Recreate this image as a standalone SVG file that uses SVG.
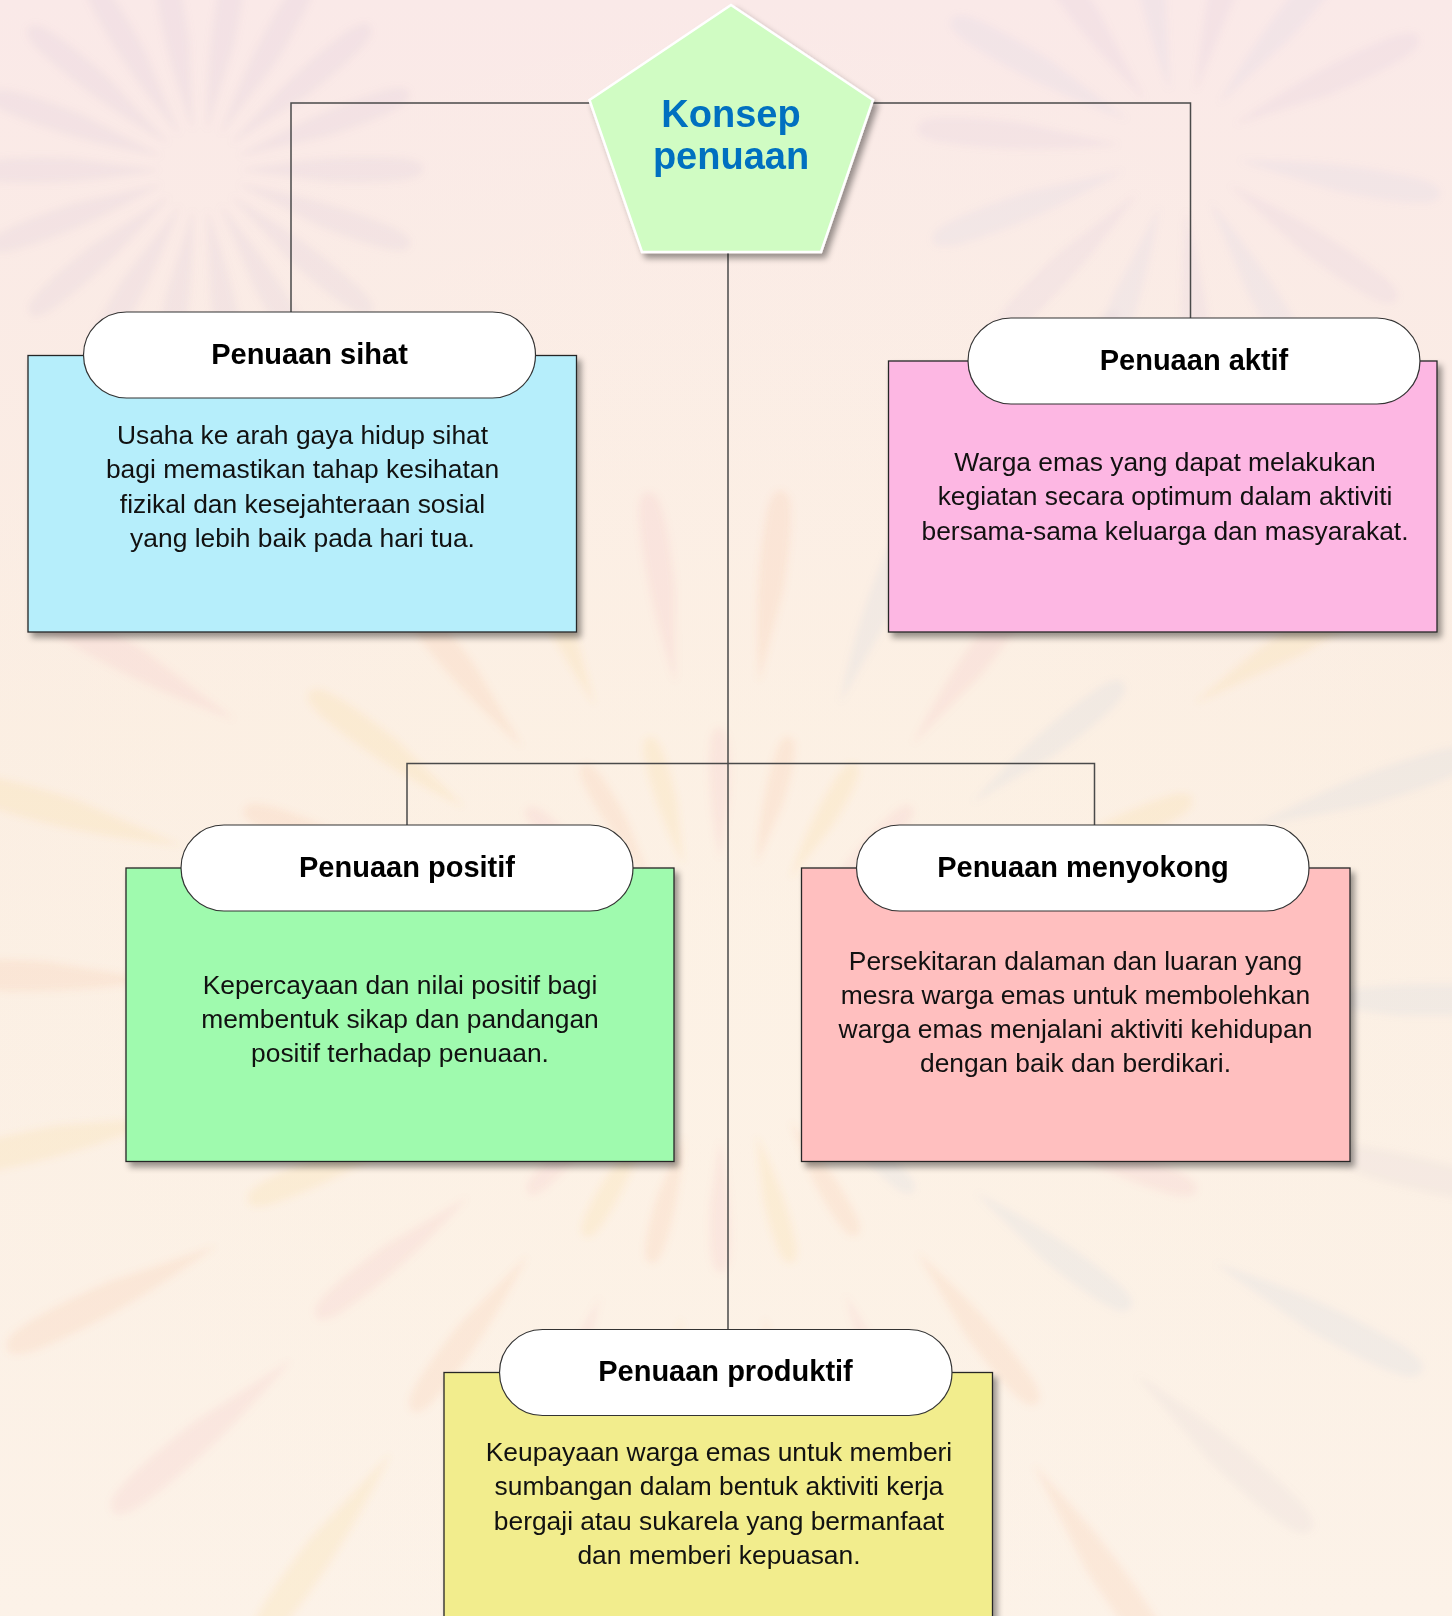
<svg xmlns="http://www.w3.org/2000/svg" xmlns:xlink="http://www.w3.org/1999/xlink" width="1452" height="1616" viewBox="0 0 1452 1616">
<defs>
<style>
.box{stroke:#262626;stroke-width:1.3;filter:url(#sh)}
.pill{fill:#ffffff;stroke:#333333;stroke-width:1.2}
.ttl{font-family:"Liberation Sans",Arial,sans-serif;font-weight:bold;font-size:29px;fill:#000;text-anchor:middle}
.body{font-family:"Liberation Sans",Arial,sans-serif;font-size:26.4px;fill:#111;text-anchor:middle}
.conn{fill:none;stroke:#4a4a4a;stroke-width:1.5}
.main{font-family:"Liberation Sans",Arial,sans-serif;font-weight:bold;font-size:38px;fill:#0070c0;text-anchor:middle}
</style>
<filter id="sh" x="-5%" y="-5%" width="115%" height="115%">
<feDropShadow dx="4" dy="5" stdDeviation="3" flood-color="#000" flood-opacity="0.4"/>
</filter>
<filter id="soft"><feGaussianBlur stdDeviation="3.5"/></filter>
<linearGradient id="bg" x1="0" y1="0" x2="0" y2="1">
<stop offset="0" stop-color="#fae9e8"/>
<stop offset="0.45" stop-color="#fbeee2"/>
<stop offset="1" stop-color="#fcf2e8"/>
</linearGradient>
<radialGradient id="glow" cx="0.5" cy="0.6" r="0.6">
<stop offset="0" stop-color="#fdf3e6" stop-opacity="0.6"/>
<stop offset="1" stop-color="#fdf3e6" stop-opacity="0"/>
</radialGradient>
<path id="pt" d="M0,0 Q50,-14 90,-10 Q106,-7 100,4 Q94,12 50,10 Z"/>
</defs>

<g id="background">
<rect width="1452" height="1616" fill="url(#bg)"/>
<rect width="1452" height="1616" fill="url(#glow)"/>
<g filter="url(#soft)">
<g opacity="0.13" transform="translate(200,170)">
<use xlink:href="#pt" fill="#c9b3d1" transform="rotate(0) translate(40,0) scale(1.8,1.2)"/>
<use xlink:href="#pt" fill="#c9b3d1" transform="rotate(20) translate(40,0) scale(1.8,1.2)"/>
<use xlink:href="#pt" fill="#c9b3d1" transform="rotate(40) translate(40,0) scale(1.8,1.2)"/>
<use xlink:href="#pt" fill="#c9b3d1" transform="rotate(60) translate(40,0) scale(1.8,1.2)"/>
<use xlink:href="#pt" fill="#c9b3d1" transform="rotate(80) translate(40,0) scale(1.8,1.2)"/>
<use xlink:href="#pt" fill="#c9b3d1" transform="rotate(100) translate(40,0) scale(1.8,1.2)"/>
<use xlink:href="#pt" fill="#c9b3d1" transform="rotate(120) translate(40,0) scale(1.8,1.2)"/>
<use xlink:href="#pt" fill="#c9b3d1" transform="rotate(140) translate(40,0) scale(1.8,1.2)"/>
<use xlink:href="#pt" fill="#c9b3d1" transform="rotate(160) translate(40,0) scale(1.8,1.2)"/>
<use xlink:href="#pt" fill="#c9b3d1" transform="rotate(180) translate(40,0) scale(1.8,1.2)"/>
<use xlink:href="#pt" fill="#c9b3d1" transform="rotate(200) translate(40,0) scale(1.8,1.2)"/>
<use xlink:href="#pt" fill="#c9b3d1" transform="rotate(220) translate(40,0) scale(1.8,1.2)"/>
<use xlink:href="#pt" fill="#c9b3d1" transform="rotate(240) translate(40,0) scale(1.8,1.2)"/>
<use xlink:href="#pt" fill="#c9b3d1" transform="rotate(260) translate(40,0) scale(1.8,1.2)"/>
<use xlink:href="#pt" fill="#c9b3d1" transform="rotate(280) translate(40,0) scale(1.8,1.2)"/>
<use xlink:href="#pt" fill="#c9b3d1" transform="rotate(300) translate(40,0) scale(1.8,1.2)"/>
<use xlink:href="#pt" fill="#c9b3d1" transform="rotate(320) translate(40,0) scale(1.8,1.2)"/>
<use xlink:href="#pt" fill="#c9b3d1" transform="rotate(340) translate(40,0) scale(1.8,1.2)"/>
</g>
<g opacity="0.12" transform="translate(1180,150)">
<use xlink:href="#pt" fill="#b7c2e0" transform="rotate(10) translate(60,0) scale(2,1.3)"/>
<use xlink:href="#pt" fill="#c9b3d1" transform="rotate(35) translate(60,0) scale(2,1.3)"/>
<use xlink:href="#pt" fill="#b7c2e0" transform="rotate(60) translate(60,0) scale(2,1.3)"/>
<use xlink:href="#pt" fill="#c9b3d1" transform="rotate(85) translate(60,0) scale(2,1.3)"/>
<use xlink:href="#pt" fill="#b7c2e0" transform="rotate(110) translate(60,0) scale(2,1.3)"/>
<use xlink:href="#pt" fill="#c9b3d1" transform="rotate(135) translate(60,0) scale(2,1.3)"/>
<use xlink:href="#pt" fill="#b7c2e0" transform="rotate(160) translate(60,0) scale(2,1.3)"/>
<use xlink:href="#pt" fill="#c9b3d1" transform="rotate(185) translate(60,0) scale(2,1.3)"/>
<use xlink:href="#pt" fill="#b7c2e0" transform="rotate(210) translate(60,0) scale(2,1.3)"/>
<use xlink:href="#pt" fill="#c9b3d1" transform="rotate(235) translate(60,0) scale(2,1.3)"/>
<use xlink:href="#pt" fill="#b7c2e0" transform="rotate(260) translate(60,0) scale(2,1.3)"/>
<use xlink:href="#pt" fill="#c9b3d1" transform="rotate(285) translate(60,0) scale(2,1.3)"/>
<use xlink:href="#pt" fill="#b7c2e0" transform="rotate(310) translate(60,0) scale(2,1.3)"/>
<use xlink:href="#pt" fill="#c9b3d1" transform="rotate(335) translate(60,0) scale(2,1.3)"/>
</g>
<g opacity="0.12" transform="translate(720,1000)">
<use xlink:href="#pt" fill="#f0a070" transform="rotate(0) translate(140,0) scale(1.3,1)"/>
<use xlink:href="#pt" fill="#f4c860" transform="rotate(15) translate(140,0) scale(1.3,1)"/>
<use xlink:href="#pt" fill="#ee98a8" transform="rotate(30) translate(140,0) scale(1.3,1)"/>
<use xlink:href="#pt" fill="#a8c0dc" transform="rotate(45) translate(140,0) scale(1.3,1)"/>
<use xlink:href="#pt" fill="#f0a070" transform="rotate(60) translate(140,0) scale(1.3,1)"/>
<use xlink:href="#pt" fill="#f4c860" transform="rotate(75) translate(140,0) scale(1.3,1)"/>
<use xlink:href="#pt" fill="#ee98a8" transform="rotate(90) translate(140,0) scale(1.3,1)"/>
<use xlink:href="#pt" fill="#f0a070" transform="rotate(105) translate(140,0) scale(1.3,1)"/>
<use xlink:href="#pt" fill="#f4c860" transform="rotate(120) translate(140,0) scale(1.3,1)"/>
<use xlink:href="#pt" fill="#ee98a8" transform="rotate(135) translate(140,0) scale(1.3,1)"/>
<use xlink:href="#pt" fill="#f0a070" transform="rotate(150) translate(140,0) scale(1.3,1)"/>
<use xlink:href="#pt" fill="#f4c860" transform="rotate(165) translate(140,0) scale(1.3,1)"/>
<use xlink:href="#pt" fill="#ee98a8" transform="rotate(180) translate(140,0) scale(1.3,1)"/>
<use xlink:href="#pt" fill="#f0a070" transform="rotate(195) translate(140,0) scale(1.3,1)"/>
<use xlink:href="#pt" fill="#f4c860" transform="rotate(210) translate(140,0) scale(1.3,1)"/>
<use xlink:href="#pt" fill="#ee98a8" transform="rotate(225) translate(140,0) scale(1.3,1)"/>
<use xlink:href="#pt" fill="#f0a070" transform="rotate(240) translate(140,0) scale(1.3,1)"/>
<use xlink:href="#pt" fill="#f4c860" transform="rotate(255) translate(140,0) scale(1.3,1)"/>
<use xlink:href="#pt" fill="#ee98a8" transform="rotate(270) translate(140,0) scale(1.3,1)"/>
<use xlink:href="#pt" fill="#f0a070" transform="rotate(285) translate(140,0) scale(1.3,1)"/>
<use xlink:href="#pt" fill="#f4c860" transform="rotate(300) translate(140,0) scale(1.3,1)"/>
<use xlink:href="#pt" fill="#ee98a8" transform="rotate(315) translate(140,0) scale(1.3,1)"/>
<use xlink:href="#pt" fill="#f0a070" transform="rotate(330) translate(140,0) scale(1.3,1)"/>
<use xlink:href="#pt" fill="#a8c0dc" transform="rotate(345) translate(140,0) scale(1.3,1)"/>
<use xlink:href="#pt" fill="#f4c860" transform="rotate(7) translate(320,0) scale(1.9,1.3)"/>
<use xlink:href="#pt" fill="#ee98a8" transform="rotate(22) translate(320,0) scale(1.9,1.3)"/>
<use xlink:href="#pt" fill="#a8c0dc" transform="rotate(37) translate(320,0) scale(1.9,1.3)"/>
<use xlink:href="#pt" fill="#f0a070" transform="rotate(52) translate(320,0) scale(1.9,1.3)"/>
<use xlink:href="#pt" fill="#ee98a8" transform="rotate(67) translate(320,0) scale(1.9,1.3)"/>
<use xlink:href="#pt" fill="#f0a070" transform="rotate(82) translate(320,0) scale(1.9,1.3)"/>
<use xlink:href="#pt" fill="#f4c860" transform="rotate(97) translate(320,0) scale(1.9,1.3)"/>
<use xlink:href="#pt" fill="#ee98a8" transform="rotate(112) translate(320,0) scale(1.9,1.3)"/>
<use xlink:href="#pt" fill="#f0a070" transform="rotate(127) translate(320,0) scale(1.9,1.3)"/>
<use xlink:href="#pt" fill="#ee98a8" transform="rotate(142) translate(320,0) scale(1.9,1.3)"/>
<use xlink:href="#pt" fill="#f4c860" transform="rotate(157) translate(320,0) scale(1.9,1.3)"/>
<use xlink:href="#pt" fill="#f0a070" transform="rotate(172) translate(320,0) scale(1.9,1.3)"/>
<use xlink:href="#pt" fill="#f4c860" transform="rotate(187) translate(320,0) scale(1.9,1.3)"/>
<use xlink:href="#pt" fill="#f0a070" transform="rotate(202) translate(320,0) scale(1.9,1.3)"/>
<use xlink:href="#pt" fill="#f4c860" transform="rotate(217) translate(320,0) scale(1.9,1.3)"/>
<use xlink:href="#pt" fill="#f0a070" transform="rotate(232) translate(320,0) scale(1.9,1.3)"/>
<use xlink:href="#pt" fill="#f4c860" transform="rotate(247) translate(320,0) scale(1.9,1.3)"/>
<use xlink:href="#pt" fill="#ee98a8" transform="rotate(262) translate(320,0) scale(1.9,1.3)"/>
<use xlink:href="#pt" fill="#f0a070" transform="rotate(277) translate(320,0) scale(1.9,1.3)"/>
<use xlink:href="#pt" fill="#a8c0dc" transform="rotate(292) translate(320,0) scale(1.9,1.3)"/>
<use xlink:href="#pt" fill="#ee98a8" transform="rotate(307) translate(320,0) scale(1.9,1.3)"/>
<use xlink:href="#pt" fill="#a8c0dc" transform="rotate(322) translate(320,0) scale(1.9,1.3)"/>
<use xlink:href="#pt" fill="#f4c860" transform="rotate(337) translate(320,0) scale(1.9,1.3)"/>
<use xlink:href="#pt" fill="#a8c0dc" transform="rotate(352) translate(320,0) scale(1.9,1.3)"/>
<use xlink:href="#pt" fill="#a8c0dc" transform="rotate(0) translate(560,0) scale(2.3,1.5)"/>
<use xlink:href="#pt" fill="#c8b8c8" transform="rotate(14) translate(560,0) scale(2.3,1.5)"/>
<use xlink:href="#pt" fill="#a8c0dc" transform="rotate(28) translate(560,0) scale(2.3,1.5)"/>
<use xlink:href="#pt" fill="#c8b8c8" transform="rotate(42) translate(560,0) scale(2.3,1.5)"/>
<use xlink:href="#pt" fill="#f0a070" transform="rotate(56) translate(560,0) scale(2.3,1.5)"/>
<use xlink:href="#pt" fill="#ee98a8" transform="rotate(70) translate(560,0) scale(2.3,1.5)"/>
<use xlink:href="#pt" fill="#f0a070" transform="rotate(98) translate(560,0) scale(2.3,1.5)"/>
<use xlink:href="#pt" fill="#ee98a8" transform="rotate(112) translate(560,0) scale(2.3,1.5)"/>
<use xlink:href="#pt" fill="#f4c860" transform="rotate(126) translate(560,0) scale(2.3,1.5)"/>
<use xlink:href="#pt" fill="#ee98a8" transform="rotate(140) translate(560,0) scale(2.3,1.5)"/>
<use xlink:href="#pt" fill="#f0a070" transform="rotate(154) translate(560,0) scale(2.3,1.5)"/>
<use xlink:href="#pt" fill="#f4c860" transform="rotate(168) translate(560,0) scale(2.3,1.5)"/>
<use xlink:href="#pt" fill="#f0a070" transform="rotate(182) translate(560,0) scale(2.3,1.5)"/>
<use xlink:href="#pt" fill="#f4c860" transform="rotate(196) translate(560,0) scale(2.3,1.5)"/>
<use xlink:href="#pt" fill="#ee98a8" transform="rotate(210) translate(560,0) scale(2.3,1.5)"/>
<use xlink:href="#pt" fill="#f0a070" transform="rotate(224) translate(560,0) scale(2.3,1.5)"/>
<use xlink:href="#pt" fill="#c8b8c8" transform="rotate(300) translate(560,0) scale(2.3,1.5)"/>
<use xlink:href="#pt" fill="#a8c0dc" transform="rotate(314) translate(560,0) scale(2.3,1.5)"/>
<use xlink:href="#pt" fill="#f4c860" transform="rotate(328) translate(560,0) scale(2.3,1.5)"/>
<use xlink:href="#pt" fill="#a8c0dc" transform="rotate(342) translate(560,0) scale(2.3,1.5)"/>
</g>
</g>
</g>

<g id="connectors">
<path class="conn" d="M589.5,103 H291 V312"/>
<path class="conn" d="M873,103 H1190.5 V318"/>
<path class="conn" d="M728,252 V1329"/>
<path class="conn" d="M407,825 V763.5 H1094.5 V825"/>
</g>

<g id="konsep-penuaan">
<polygon points="731,5 873,100 821,252 642,252 589.5,100" fill="#d0fcc3" stroke="#ffffff" stroke-width="2.5" filter="url(#sh)"/>
<text class="main" x="731" y="127">Konsep</text>
<text class="main" x="731" y="168.5">penuaan</text>
</g>

<g id="penuaan-sihat">
<rect class="box" x="28" y="355.5" width="548.5" height="276.5" fill="#b6eefb"/>
<rect class="pill" x="83.5" y="312" width="452" height="86" rx="43" ry="43"/>
<text class="ttl" x="309.5" y="363.5">Penuaan sihat</text>
<text class="body" x="302.5" y="444">Usaha ke arah gaya hidup sihat</text>
<text class="body" x="302.5" y="478.3">bagi memastikan tahap kesihatan</text>
<text class="body" x="302.5" y="512.6">fizikal dan kesejahteraan sosial</text>
<text class="body" x="302.5" y="546.9">yang lebih baik pada hari tua.</text>
</g>

<g id="penuaan-aktif">
<rect class="box" x="888.5" y="361" width="548.5" height="271" fill="#fdb7e3"/>
<rect class="pill" x="968" y="318" width="452" height="86" rx="43" ry="43"/>
<text class="ttl" x="1194" y="369.5">Penuaan aktif</text>
<text class="body" x="1165" y="471">Warga emas yang dapat melakukan</text>
<text class="body" x="1165" y="505.3">kegiatan secara optimum dalam aktiviti</text>
<text class="body" x="1165" y="539.6">bersama-sama keluarga dan masyarakat.</text>
</g>

<g id="penuaan-positif">
<rect class="box" x="126" y="868" width="548" height="293.5" fill="#9ffaae"/>
<rect class="pill" x="181" y="825" width="452" height="86" rx="43" ry="43"/>
<text class="ttl" x="407" y="876.5">Penuaan positif</text>
<text class="body" x="400" y="993.5">Kepercayaan dan nilai positif bagi</text>
<text class="body" x="400" y="1027.8">membentuk sikap dan pandangan</text>
<text class="body" x="400" y="1062.1">positif terhadap penuaan.</text>
</g>

<g id="penuaan-menyokong">
<rect class="box" x="801.5" y="868" width="548.5" height="293.5" fill="#ffbfbf"/>
<rect class="pill" x="856.5" y="825" width="452.5" height="86" rx="43" ry="43"/>
<text class="ttl" x="1083" y="876.5">Penuaan menyokong</text>
<text class="body" x="1075.5" y="969.5">Persekitaran dalaman dan luaran yang</text>
<text class="body" x="1075.5" y="1003.8">mesra warga emas untuk membolehkan</text>
<text class="body" x="1075.5" y="1038.1">warga emas menjalani aktiviti kehidupan</text>
<text class="body" x="1075.5" y="1072.4">dengan baik dan berdikari.</text>
</g>

<g id="penuaan-produktif">
<rect class="box" x="444" y="1372.5" width="548.5" height="280" fill="#f2ed8d"/>
<rect class="pill" x="499.5" y="1329.5" width="452.5" height="86" rx="43" ry="43"/>
<text class="ttl" x="725.5" y="1380.5">Penuaan produktif</text>
<text class="body" x="719" y="1461">Keupayaan warga emas untuk memberi</text>
<text class="body" x="719" y="1495.3">sumbangan dalam bentuk aktiviti kerja</text>
<text class="body" x="719" y="1529.6">bergaji atau sukarela yang bermanfaat</text>
<text class="body" x="719" y="1563.9">dan memberi kepuasan.</text>
</g>
</svg>
